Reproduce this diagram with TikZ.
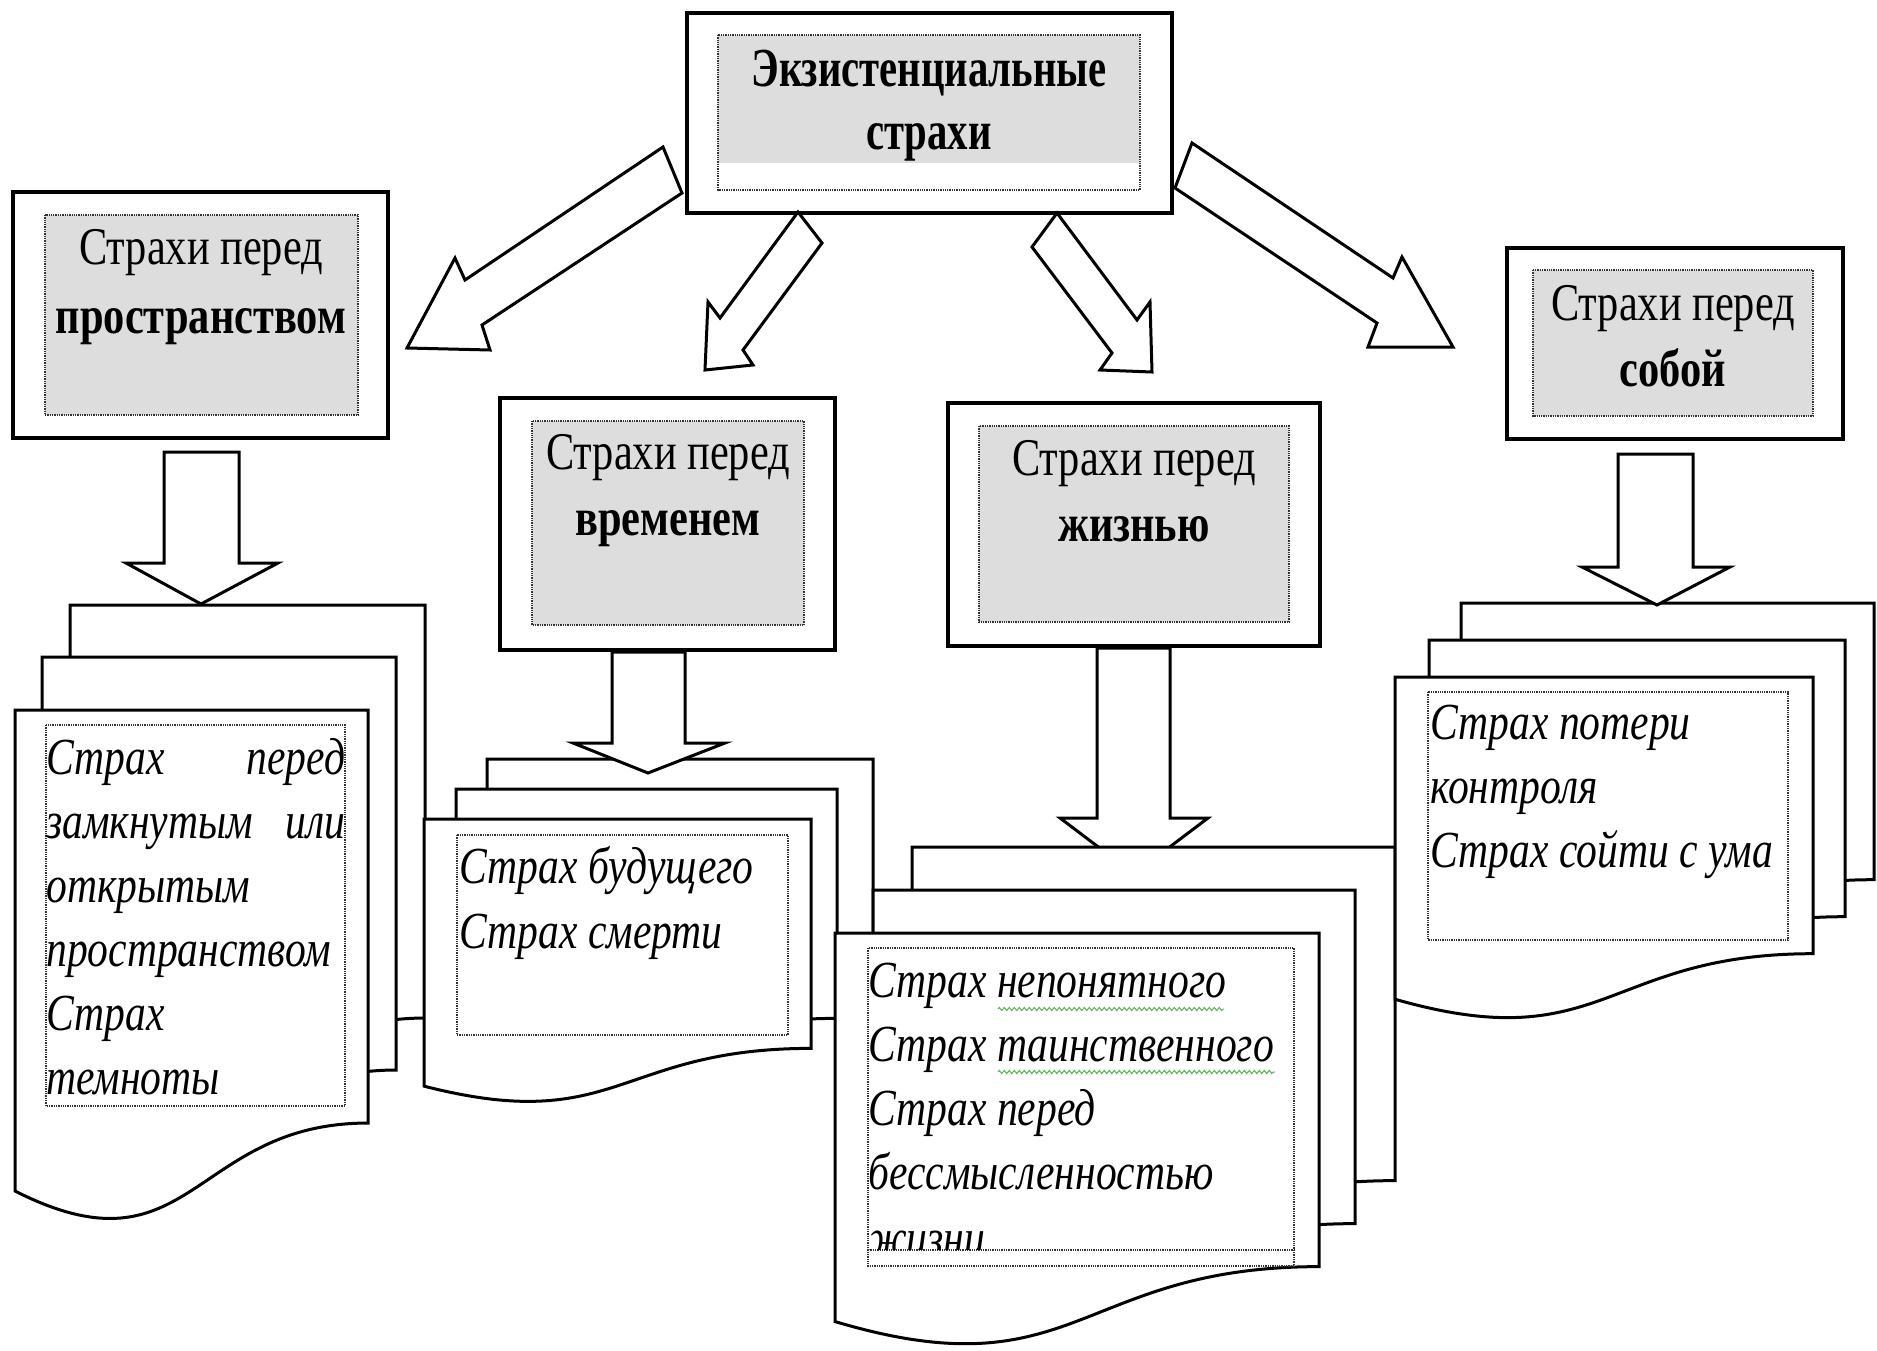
\documentclass[tikz,border=0pt]{standalone}
\usepackage{fontspec}
\setmainfont{Liberation Serif}[FakeStretch=0.8]
\newfontfamily\titlefont{Liberation Serif}[FakeStretch=0.74]
\usetikzlibrary{decorations.pathmorphing}
\definecolor{labgray}{RGB}{221,221,221}
\definecolor{spell}{RGB}{90,180,90}
\newcommand\docpage[4]{%
  \pgfmathsetmacro\dpYr{#2+0.802*#4}%
  \pgfmathsetmacro\dpYl{#2+0.934*#4}%
  \pgfmathsetmacro\dpCy{#2+1.1075*#4}%
  \pgfmathsetmacro\dpXm{(#1+#3)/2}%
  \draw[page] (#1,#2) -- (#3,#2) -- (#3,\dpYr) .. controls (\dpXm,\dpYr) and (\dpXm,\dpCy) .. (#1,\dpYl) -- cycle;
}
\tikzset{
  outerbox/.style={draw, line width=3.5pt, fill=white, inner sep=0pt},
  graybox/.style={fill=labgray, draw=none},
  dotbox/.style={draw=black!80, densely dotted, line width=1.3pt},
  page/.style={draw, line width=3pt, fill=white, line join=miter},
  blockarrow/.style={draw, line width=3pt, fill=white, line join=miter},
  labreg/.style={font=\fontsize{53}{66}\selectfont, inner sep=0pt, anchor=base},
  labbold/.style={font=\fontsize{53}{66}\selectfont\bfseries, inner sep=0pt, anchor=base},
  titlebold/.style={font=\titlefont\fontsize{55}{66}\selectfont\bfseries, inner sep=0pt, anchor=base},
  itline/.style={font=\fontsize{52}{64}\selectfont\itshape, inner sep=0pt, anchor=base west},
  squiggle/.style={draw=spell, line width=1pt, decorate, decoration={zigzag, segment length=5pt, amplitude=1.6pt}}
}
\begin{document}
\begin{tikzpicture}[x=1pt, y=-1pt]
\useasboundingbox[fill=white] (0,0) rectangle (1877,1351);

% ---------- top box ----------
\draw[outerbox] (687,13) rectangle (1172,213);
\fill[graybox] (718,35) rectangle (1140,163);
\draw[dotbox] (718,35) rectangle (1140,190);
\node[titlebold] (t1) at (929,87) {Экзистенциальные};
\node[titlebold] (t2) at (929,150) {страхи};

% ---------- diagonal block arrows ----------
\draw[blockarrow] (663,147) -- (465,280) -- (455,258) -- (407,348) -- (490,350) -- (482,325) -- (682,193) -- cycle;
\draw[blockarrow] (798,212) -- (720,318) -- (708,302) -- (705,370) -- (753,365) -- (743,350) -- (822,243) -- cycle;
\draw[blockarrow] (1057,213) -- (1137,320) -- (1150,302) -- (1152,372) -- (1100,370) -- (1112,353) -- (1032,247) -- cycle;
\draw[blockarrow] (1192,143) -- (1393,278) -- (1402,257) -- (1453,347) -- (1368,347) -- (1377,323) -- (1175,188) -- cycle;

% ---------- category boxes ----------
\draw[outerbox] (13,192) rectangle (388,438);
\fill[graybox] (45,215) rectangle (358,415);
\draw[dotbox] (45,215) rectangle (358,415);
\node[labreg] (a1) at (201,265) {Страхи перед};
\node[labbold] (a2) at (201,333) {пространством};

\draw[outerbox] (500,398) rectangle (835,650);
\fill[graybox] (532,421) rectangle (804,625);
\draw[dotbox] (532,421) rectangle (804,625);
\node[labreg] (b1) at (668,469) {Страхи перед};
\node[labbold] (b2) at (668,535) {временем};

\draw[outerbox] (948,403) rectangle (1320,646);
\fill[graybox] (979,426) rectangle (1289,622);
\draw[dotbox] (979,426) rectangle (1289,622);
\node[labreg] (c1) at (1134,475) {Страхи перед};
\node[labbold] (c2) at (1134,541) {жизнью};

\draw[outerbox] (1507,248) rectangle (1843,439);
\fill[graybox] (1533,270) rectangle (1813,416);
\draw[dotbox] (1533,270) rectangle (1813,416);
\node[labreg] (d1) at (1673,320) {Страхи перед};
\node[labbold] (d2) at (1673,386) {собой};

% ---------- arrow under the "life" stack ----------
\draw[blockarrow] (1097,648) -- (1170,648) -- (1170,818) -- (1208,818) -- (1134,874) -- (1060,818) -- (1097,818) -- cycle;

% ---------- document stacks ----------
% left
\docpage{70}{605}{425}{515}
\docpage{42}{657}{396}{515}
\docpage{15}{710}{368}{515}
% time
\docpage{487}{759}{873}{286}
\docpage{456}{789}{837}{286}
\docpage{424}{819}{811}{286}
% life
\docpage{912}{847}{1395}{416}
\docpage{873}{890}{1355}{416}
\docpage{835}{933}{1319}{416}
% self
\docpage{1461}{603}{1874}{345}
\docpage{1429}{640}{1845}{345}
\docpage{1395}{677}{1813}{345}

% ---------- remaining down arrows ----------
\draw[blockarrow] (164,452) -- (239,452) -- (239,563) -- (278,563) -- (201,604) -- (126,563) -- (164,563) -- cycle;
\draw[blockarrow] (612,652) -- (685,652) -- (685,743) -- (725,743) -- (648,773) -- (573,743) -- (612,743) -- cycle;
\draw[blockarrow] (1618,454) -- (1693,454) -- (1693,567) -- (1730,567) -- (1657,605) -- (1582,567) -- (1618,567) -- cycle;

% ---------- text frames in the documents ----------
\draw[dotbox] (46,725) rectangle (345,1106);
\node[itline] (p1) at (46,774) {\makebox[299pt][s]{Страх перед}};
\node[itline] (p2) at (46,838) {\makebox[299pt][s]{замкнутым или}};
\node[itline] (p3) at (46,902) {открытым};
\node[itline] (p4) at (46,966) {пространством};
\node[itline] (p5) at (46,1030) {Страх};
\node[itline] (p6) at (46,1094) {темноты};

\draw[dotbox] (457,835) rectangle (788,1035);
\node[itline] (q1) at (459,883) {Страх будущего};
\node[itline] (q2) at (459,948) {Страх смерти};

\draw[dotbox] (868,948) rectangle (1294,1266);
\draw[dotbox] (868,1250) -- (1294,1250);
\node[itline] (r1) at (868,997) {Страх непонятного};
\node[itline] (r2) at (868,1061) {Страх таинственного};
\node[itline] (r3) at (868,1125) {Страх перед};
\node[itline] (r4) at (868,1189) {бессмысленностью};
\begin{scope}
  \clip (860,1180) rectangle (1300,1249);
  \node[itline] (r5) at (868,1255) {жизни};
\end{scope}
\coordinate (s1a) at (998,1009); \coordinate (s1b) at (1224,1009);
\coordinate (s2a) at (998,1072); \coordinate (s2b) at (1275,1072);
\draw[squiggle] (s1a) -- (s1b);
\draw[squiggle] (s2a) -- (s2b);

\draw[dotbox] (1428,692) rectangle (1788,940);
\node[itline] (u1) at (1430,739) {Страх потери};
\node[itline] (u2) at (1430,803) {контроля};
\node[itline] (u3) at (1430,867) {Страх сойти с ума};
\end{tikzpicture}
\end{document}
